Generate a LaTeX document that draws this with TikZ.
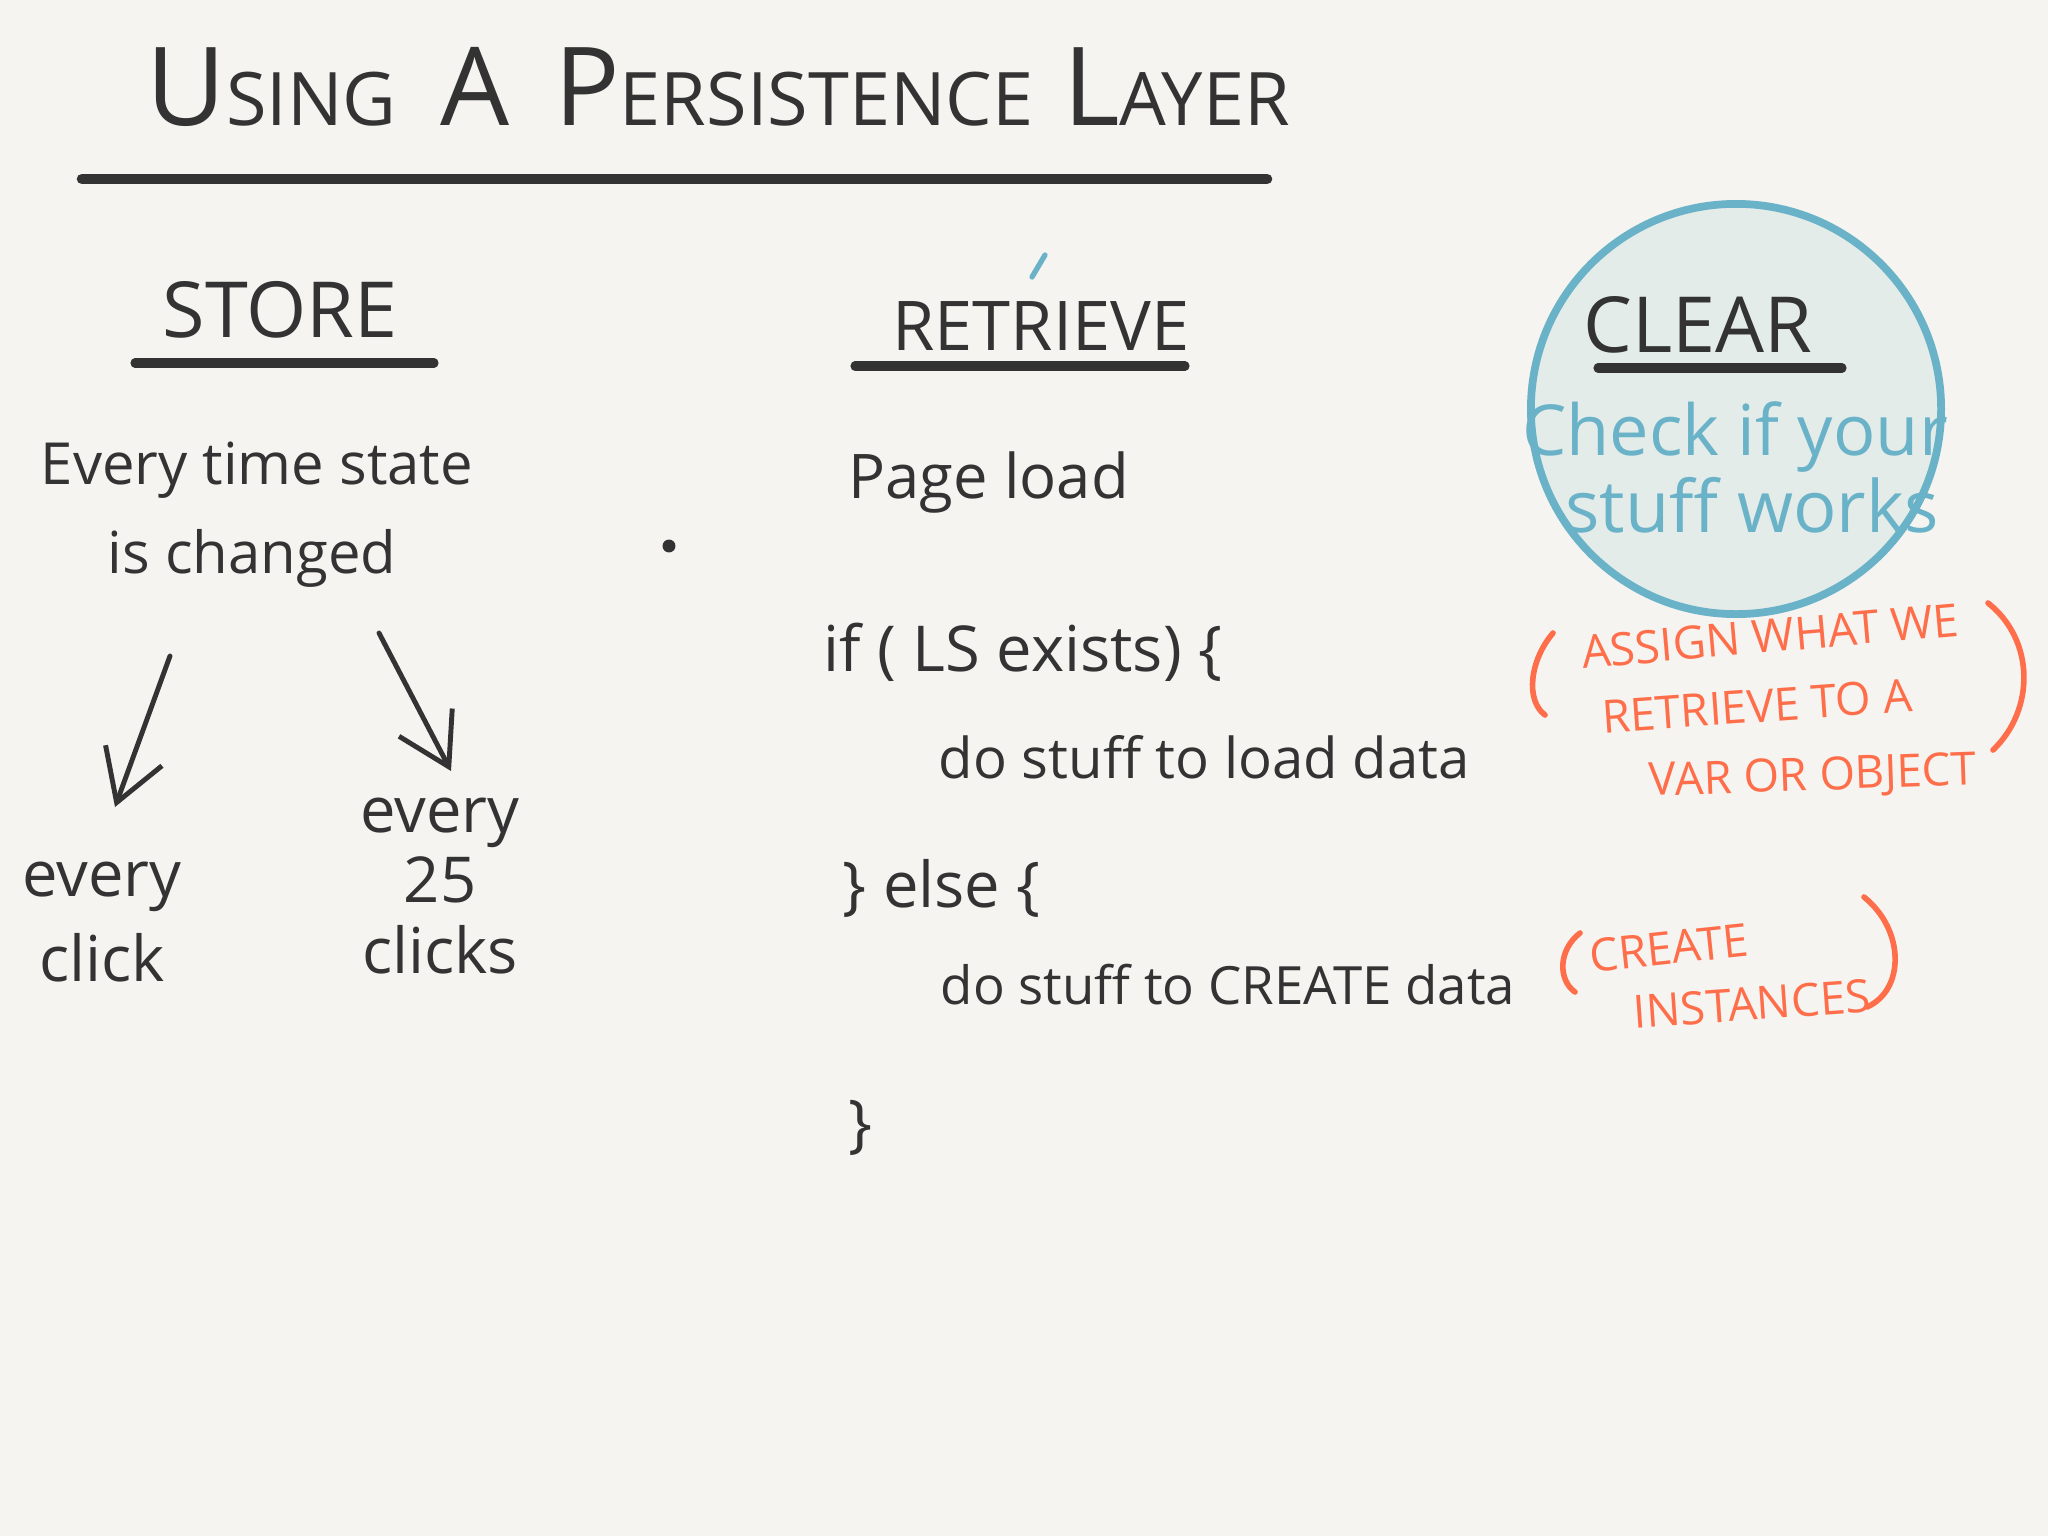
\documentclass[tikz,border=0pt]{standalone}
\usepackage{fontspec}
\setmainfont{Open Sans}
\usetikzlibrary{arrows.meta}
\definecolor{bg}{HTML}{F5F4F0}
\definecolor{ink}{HTML}{333333}
\definecolor{tealc}{HTML}{6AB2C8}
\definecolor{fillc}{HTML}{E3ECE9}
\definecolor{orng}{HTML}{FF6E4A}
\newcommand{\fsz}[1]{\fontsize{#1}{#1}\selectfont}
\tikzset{
  hand/.style={text=ink, inner sep=0pt, font=\fsz{18}},
  head/.style={text=ink, inner sep=0pt, font=\fsz{22}},
  note/.style={text=orng, inner sep=0pt, font=\fsz{13}},
  rulel/.style={draw=ink, line width=2.6pt, line cap=round},
  arr/.style={draw=ink, line width=1.4pt, line cap=round, -{Straight Barb[length=5mm,width=6mm]}},
  paren/.style={draw=orng, line width=1.6pt, line cap=round},
}
\begin{document}
\begin{tikzpicture}[x=0.01cm,y=-0.01cm]
\fill[bg] (0,0) rectangle (2048,1536);
\useasboundingbox (0,0) rectangle (2048,1536);

% title
\node[text=ink, inner sep=0pt, anchor=base west, font=\fsz{21}] (title) at (146,125)
  {{\fsz{31}U}SING\hspace{0.6em}{\fsz{31}A}\hspace{0.6em}{\fsz{31}P}ERSISTENCE\hspace{0.4em}{\fsz{31}L}AYER};
\coordinate (t1) at (82,179);
\coordinate (t2) at (1267,179);
\draw[rulel, line width=3pt] (t1) -- (t2);

% STORE
\node[head] (store) at (280,310) {STORE};
\coordinate (s1) at (135,363);
\coordinate (s2) at (434,363);
\draw[rulel] (s1) -- (s2);

\node[hand, font=\fsz{16.5}] (every) at (257,470) {Every time state};
\node[hand, font=\fsz{16.5}] (chg) at (252,558) {is changed};
\node[circle, fill=ink, inner sep=1.3pt] (dot) at (669,546) {};

\coordinate (a1s) at (170,656);
\coordinate (a1e) at (115,807);
\coordinate (a2s) at (379,633);
\coordinate (a2e) at (451,771);
\draw[arr] (a1s) -- (a1e);
\draw[arr] (a2s) -- (a2e);

\node[hand, align=center] (click1) at (102,922) {every\\[6pt]click};
\node[hand, align=center] (click25) at (440,886) {every\\[2pt]25\\[2pt]clicks};

% RETRIEVE
\node[head, font=\fsz{19.5}] (retr) at (1041,326) {RETRIEVE};
\coordinate (r1) at (855,366);
\coordinate (r2) at (1185,366);
\draw[rulel] (r1) -- (r2);
\coordinate (b1) at (1045,255);
\coordinate (b2) at (1032,277);
\draw[draw=tealc, line width=1.5pt, line cap=round] (b1) -- (b2);

\node[hand, font=\fsz{17.5}, anchor=west] (page) at (848,483) {Page load};
\node[hand, anchor=west] (if) at (823,652) {if ( LS exists) \{};
\node[hand, font=\fsz{16}, anchor=west] (load) at (938,757) {do stuff to load data};
\node[hand, anchor=west] (else) at (842,888) {\} else \{};
\node[hand, font=\fsz{15}, anchor=west] (create) at (940,985) {do stuff to CREATE data};
\node[hand, anchor=west] (close) at (848,1128) {\}};

% CLEAR circle
\node[circle, draw=tealc, fill=fillc, line width=2.2pt, minimum size=4.1cm, inner sep=0pt] (circ) at (1736,409) {};
\node[head] (clear) at (1698,325) {CLEAR};
\coordinate (c1) at (1598,368);
\coordinate (c2) at (1842,368);
\draw[rulel] (c1) -- (c2);
\node[hand, text=tealc, font=\fsz{20}] (check) at (1735,437) {Check if your};
\node[hand, text=tealc, font=\fsz{20.5}] (works) at (1752,505) {stuff works};

% orange notes
\node[note, rotate=5] (n1) at (1770,636) {ASSIGN WHAT WE};
\node[note, rotate=4] (n2) at (1757,706) {RETRIEVE TO A};
\node[note, rotate=2] (n3) at (1813,778) {VAR OR OBJECT};
\coordinate (pl1) at (1553,633);
\coordinate (pl2) at (1545,715);
\draw[paren] (pl1) .. controls (1530,660) and (1525,700) .. (pl2);
\coordinate (pr1) at (1988,603);
\coordinate (pr2) at (1993,750);
\draw[paren] (pr1) .. controls (2035,640) and (2035,710) .. (pr2);

\node[note, rotate=6] (n4) at (1669,948) {CREATE};
\node[note, rotate=4] (n5) at (1752,1004) {INSTANCES};
\coordinate (ql1) at (1580,933);
\coordinate (ql2) at (1575,992);
\draw[paren] (ql1) .. controls (1558,950) and (1558,980) .. (ql2);
\coordinate (qr1) at (1864,897);
\coordinate (qr2) at (1867,1007);
\draw[paren] (qr1) .. controls (1905,930) and (1905,990) .. (qr2);
\end{tikzpicture}
\end{document}
